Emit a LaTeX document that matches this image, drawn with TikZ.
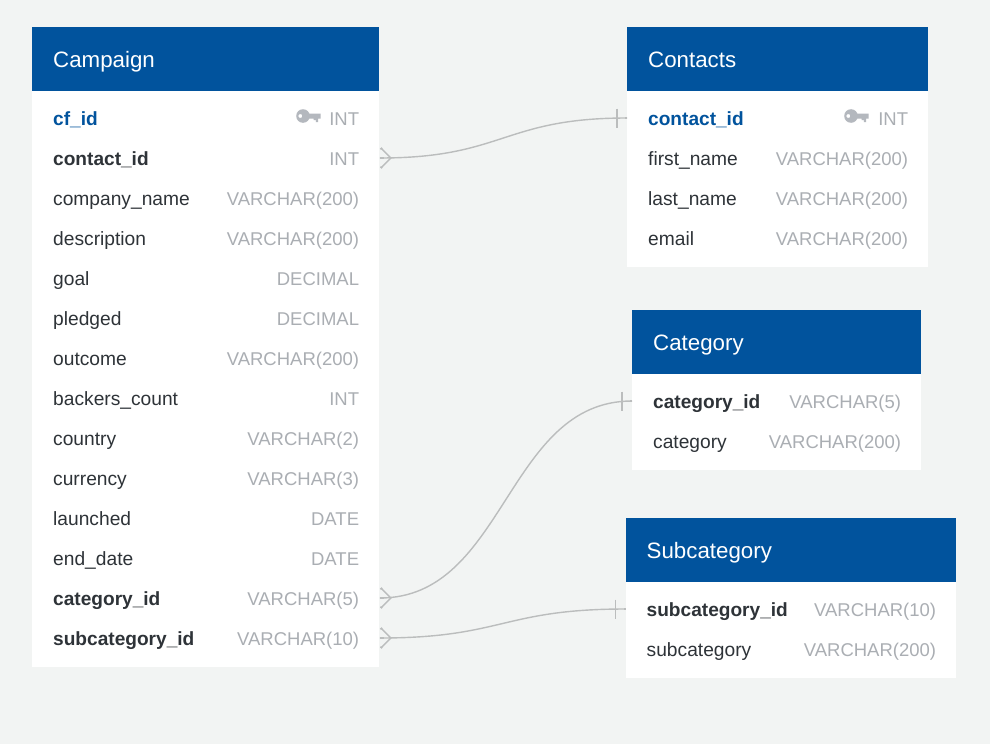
\documentclass[tikz,border=0pt]{standalone}
\usepackage{fontspec}
\setmainfont{Liberation Sans}
\definecolor{bgc}{HTML}{F2F4F3}
\definecolor{headc}{HTML}{01539D}
\definecolor{darkc}{HTML}{2E3338}
\definecolor{typec}{HTML}{AAAEB3}
\definecolor{linec}{HTML}{BBBDBD}
\definecolor{keyc}{HTML}{B4B8BE}
\tikzset{
  x=1pt,y=-1pt,
  tablebody/.style={fill=white,draw=none,anchor=north west,inner sep=0pt},
  tablehead/.style={fill=headc,draw=none,anchor=north west,inner sep=0pt},
  headtext/.style={anchor=base west,inner sep=0pt,text=white,font=\fontsize{22.3}{26}\selectfont},
  rowbox/.style={draw=none,inner sep=0pt,minimum height=40pt,anchor=west},
  fieldplain/.style={anchor=base west,inner sep=0pt,text=darkc,font=\fontsize{19.2}{23}\selectfont},
  fieldfk/.style={fieldplain,font=\fontsize{19.1}{23}\selectfont\bfseries},
  fieldpk/.style={fieldfk,text=headc},
  fieldtype/.style={anchor=base east,inner sep=0pt,text=typec,font=\fontsize{18.5}{23}\selectfont},
  rel/.style={draw=linec,line width=1.4pt},
  relmark/.style={draw=linec,line width=1.4pt},
}
% \tbl{name}{left}{top}{width}{height}{title}
\newcommand{\tbl}[6]{%
  \node[tablebody,minimum width=#4pt,minimum height=#5pt] (#1) at (#2,#3) {};
  \node[tablehead,minimum width=#4pt,minimum height=64pt] (#1-head) at (#2,#3) {};
  \node[headtext] (#1-title) at ($(#1-head.south west)+(21,-24)$) {#6};
}
% \fld{id}{table}{y}{style}{label}{type}
\newcommand{\fld}[6]{%
  \path let \p1=(#2.west), \p2=(#2.east), \n1={\x2-\x1} in
    node[rowbox,minimum width=\n1] (#1) at (\x1,#3) {};
  \node[#4] (#1-name) at ($(#1.west)+(21,7)$) {#5};
  \node[fieldtype] (#1-type) at ($(#1.east)+(-20.5,7)$) {#6};
}
% crow's foot at row east edge
\newcommand{\many}[1]{%
  \draw[relmark] ($(#1.east)+(1,-10)$) -- ($(#1.east)+(11,0)$) -- ($(#1.east)+(1,10)$);
  \draw[relmark,line width=2.2pt] ($(#1.east)+(1,-10)$) -- ++(1,1.2);
  \draw[relmark,line width=2.2pt] ($(#1.east)+(1,10)$) -- ++(1,-1.2);
  \draw[relmark,line width=2.2pt] (#1.east) -- ++(4,0);
}
% bar at row west edge
\newcommand{\one}[1]{%
  \draw[relmark] ($(#1.west)+(-10,-9.5)$) -- ($(#1.west)+(-10,9.5)$);
  \draw[relmark,line width=2.2pt] (#1.west) -- ++(-2,0);
}
% \keyicon{name of type node}
\newcommand{\keyicon}[2]{%
  \coordinate (#1) at (#2);
  \fill[keyc,even odd rule] ($(#1)+(6.5,-1.5)$) circle[radius=6.8] ($(#1)+(3.8,-1.5)$) circle[radius=2];
  \fill[keyc] ($(#1)+(11,-4)$) -- ++(13,0) -- ++(0,5.2) -- ++(-2.5,0) -- ++(0,3.3) -- ++(-2.2,0) -- ++(0,-1.8) -- ++(-2.2,0) -- ++(0,-1.5) -- ++(-6.1,0) -- cycle;
}
\usetikzlibrary{calc}
\begin{document}
\begin{tikzpicture}
\useasboundingbox[fill=bgc] (0,0) rectangle (990,744);

\tbl{campaign}{32}{27}{347}{640}{Campaign}
\tbl{contacts}{627}{27}{301}{240}{Contacts}
\tbl{category}{632}{310}{289}{160}{Category}
\tbl{subcategory}{625.5}{518}{330.5}{160}{Subcategory}

\fld{cf}{campaign}{118}{fieldpk}{cf\_id}{INT}
\fld{ccontact}{campaign}{158}{fieldfk}{contact\_id}{INT}
\fld{ccompany}{campaign}{198}{fieldplain}{company\_name}{VARCHAR(200)}
\fld{cdesc}{campaign}{238}{fieldplain}{description}{VARCHAR(200)}
\fld{cgoal}{campaign}{278}{fieldplain}{goal}{DECIMAL}
\fld{cpledged}{campaign}{318}{fieldplain}{pledged}{DECIMAL}
\fld{coutcome}{campaign}{358}{fieldplain}{outcome}{VARCHAR(200)}
\fld{cbackers}{campaign}{398}{fieldplain}{backers\_count}{INT}
\fld{ccountry}{campaign}{438}{fieldplain}{country}{VARCHAR(2)}
\fld{ccurrency}{campaign}{478}{fieldplain}{currency}{VARCHAR(3)}
\fld{claunched}{campaign}{518}{fieldplain}{launched}{DATE}
\fld{cend}{campaign}{558}{fieldplain}{end\_date}{DATE}
\fld{ccat}{campaign}{598}{fieldfk}{category\_id}{VARCHAR(5)}
\fld{csub}{campaign}{638}{fieldfk}{subcategory\_id}{VARCHAR(10)}

\fld{kid}{contacts}{118}{fieldpk}{contact\_id}{INT}
\fld{kfirst}{contacts}{158}{fieldplain}{first\_name}{VARCHAR(200)}
\fld{klast}{contacts}{198}{fieldplain}{last\_name}{VARCHAR(200)}
\fld{kemail}{contacts}{238}{fieldplain}{email}{VARCHAR(200)}

\fld{gid}{category}{401}{fieldfk}{category\_id}{VARCHAR(5)}
\fld{gname}{category}{441}{fieldplain}{category}{VARCHAR(200)}

\fld{sid}{subcategory}{609}{fieldfk}{subcategory\_id}{VARCHAR(10)}
\fld{sname}{subcategory}{649}{fieldplain}{subcategory}{VARCHAR(200)}

\keyicon{keya}{296.5,117.5}
\keyicon{keyb}{844.5,117.5}

\draw[rel] (ccontact.east) .. controls +(124,0) and ($(kid.west)+(-124,0)$) .. (kid.west);
\draw[rel] (ccat.east) .. controls +(126,0) and ($(gid.west)+(-126,0)$) .. (gid.west);
\draw[rel] (csub.east) .. controls +(123,0) and ($(sid.west)+(-123,0)$) .. (sid.west);

\many{ccontact}\many{ccat}\many{csub}
\one{kid}\one{gid}\one{sid}
\end{tikzpicture}
\end{document}
